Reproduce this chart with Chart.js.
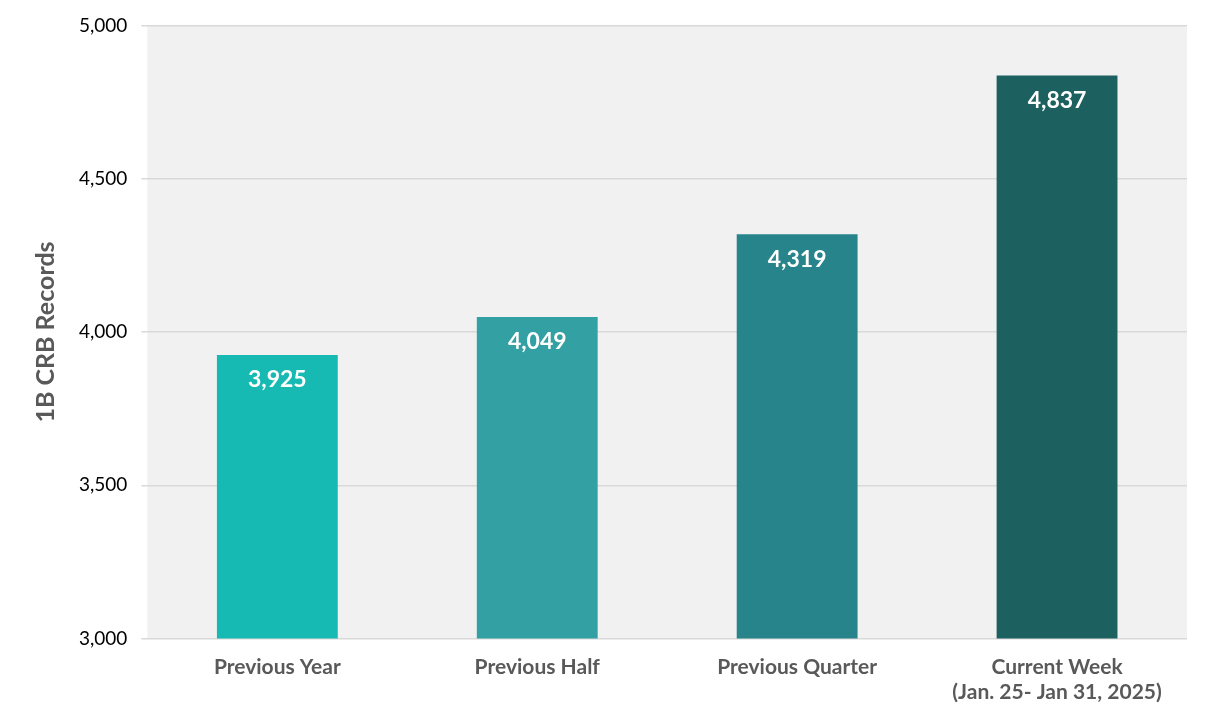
<!doctype html>
<html lang="en">
<head>
    <meta charset="utf-8">
    <title>1B CRB Records</title>
    <script src="https://cdn.jsdelivr.net/npm/chart.js"></script>
    <style>
        body { margin: 0; background: #ffffff; }
        #chart { display: block; }
    </style>
</head>
<body>
    <canvas id="chart" width="1210" height="722"></canvas>
    <script>
        const categories = ["Previous Year", "Previous Half", "Previous Quarter", ["Current Week", "(Jan. 25- Jan 31, 2025)"]];
        const records = [3925, 4049, 4319, 4837];
        const barColors = ["#17bab2", "#33a0a3", "#26848a", "#1c605f"];
        const yMin = 3000;
        const yMax = 5000;
        const yStep = 500;

        const fontFamily = "Lato, 'Open Sans', sans-serif";

        // grey plot area behind the bars
        const plotBackground = {
            id: 'plotBackground',
            beforeDraw(chart) {
                const { ctx, chartArea } = chart;
                ctx.save();
                ctx.fillStyle = '#f1f1f1';
                ctx.fillRect(chartArea.left, chartArea.top, chartArea.right - chartArea.left, chartArea.bottom - chartArea.top);
                ctx.restore();
            }
        };

        // white value labels just inside the top of each bar
        const valueLabels = {
            id: 'valueLabels',
            afterDatasetsDraw(chart) {
                const ctx = chart.ctx;
                const meta = chart.getDatasetMeta(0);
                ctx.save();
                ctx.fillStyle = '#ffffff';
                ctx.font = "bold 23px " + fontFamily;
                ctx.textAlign = 'center';
                ctx.textBaseline = 'middle';
                meta.data.forEach((bar, i) => {
                    ctx.fillText(records[i].toLocaleString('en-US'), bar.x, bar.y + 25);
                });
                ctx.restore();
            }
        };

        new Chart(document.getElementById('chart'), {
            type: 'bar',
            data: {
                labels: categories,
                datasets: [{
                    label: '1B CRB Records',
                    data: records,
                    backgroundColor: barColors,
                    barPercentage: 0.465,
                    categoryPercentage: 1
                }]
            },
            options: {
                responsive: false,
                animation: false,
                layout: { padding: { top: 12, right: 23, bottom: 1, left: 27 } },
                plugins: {
                    legend: { display: false },
                    tooltip: { enabled: false }
                },
                scales: {
                    x: {
                        grid: { display: false, drawTicks: false, tickLength: 0 },
                        border: { display: false },
                        ticks: {
                            color: '#595959',
                            font: { family: fontFamily, size: 21, weight: 'bold' },
                            padding: 16,
                            maxRotation: 0
                        }
                    },
                    y: {
                        min: yMin,
                        max: yMax,
                        ticks: {
                            stepSize: yStep,
                            color: '#000000',
                            font: { family: fontFamily, size: 19 },
                            padding: 14
                        },
                        grid: { color: '#d9d9d9', lineWidth: 1.5, tickLength: 6 },
                        border: { display: false },
                        title: {
                            display: true,
                            text: '1B CRB Records',
                            color: '#595959',
                            font: { family: fontFamily, size: 25, weight: 'bold' },
                            padding: { top: 4, bottom: 4 }
                        }
                    }
                }
            },
            plugins: [plotBackground, valueLabels]
        });
    </script>
</body>
</html>
